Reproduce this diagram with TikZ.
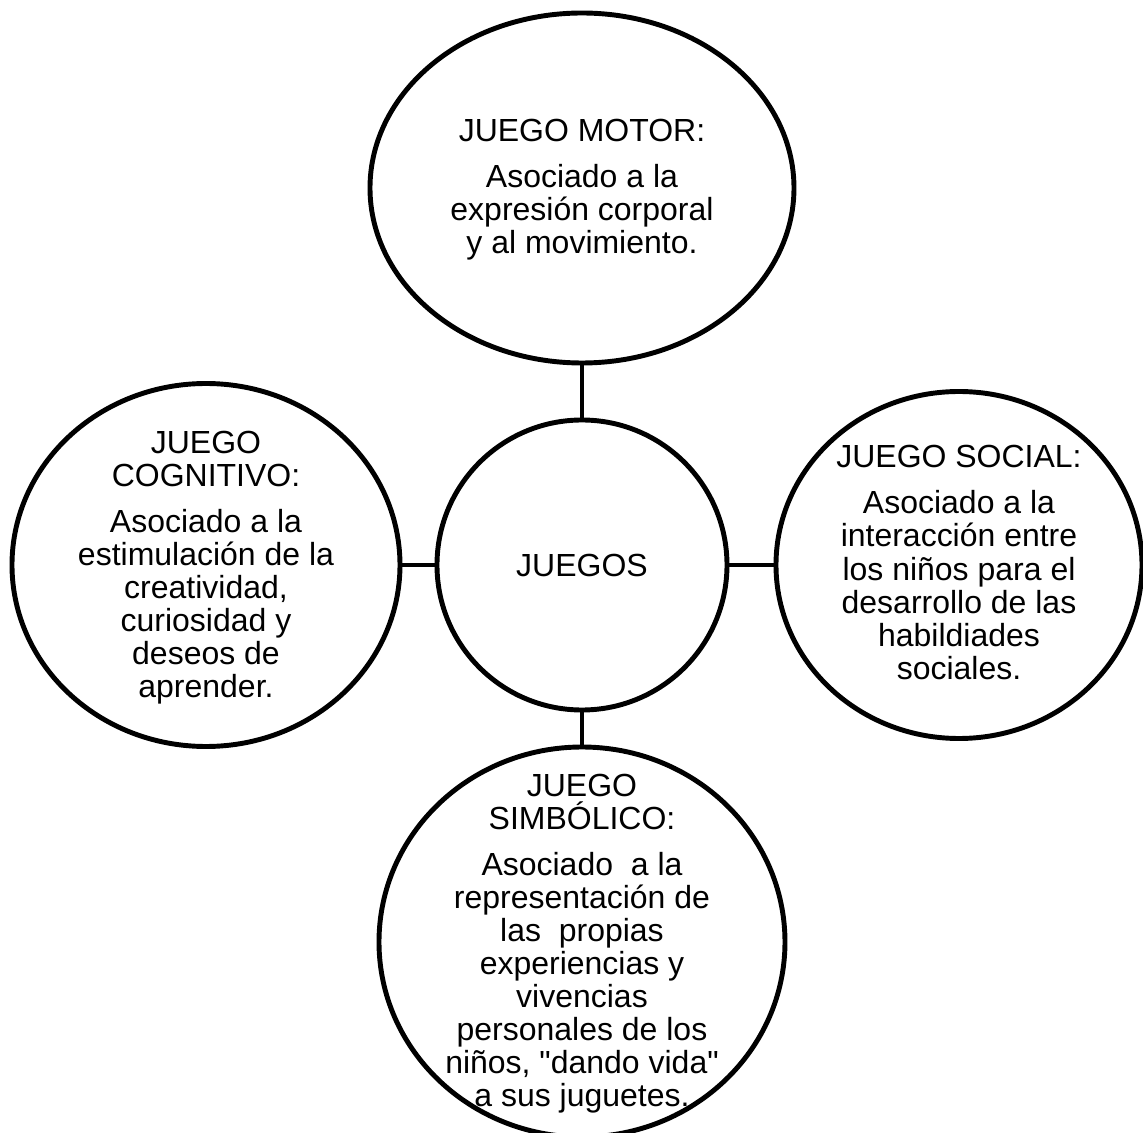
\documentclass[tikz,border=0pt]{standalone}
\usepackage{fontspec}
\setmainfont{Liberation Sans}[Ligatures=TeXOff]
\usetikzlibrary{shapes.geometric}

\begin{document}
\begin{tikzpicture}[line cap=round,line join=round,
    bubble/.style={draw,line width=2.8pt,inner sep=0pt},
    bubbletext/.style={align=center,inner sep=0pt,font=\fontsize{18.2}{18.8}\selectfont},
    link/.style={line width=2.3pt}]
  \useasboundingbox (-11.64,-11.36) rectangle (11.22,11.30);
  % centre
  \node[bubble,circle,minimum size=5.8cm,bubbletext] (juegos) at (0,0) {JUEGOS};
  % the four kinds of play
  \node[bubble,ellipse,minimum width=8.48cm,minimum height=7.0cm] (motor) at (0,7.54) {};
  \node[bubble,ellipse,minimum width=7.76cm,minimum height=7.26cm] (cognitivo) at (-7.52,0) {};
  \node[bubble,ellipse,minimum width=7.32cm,minimum height=6.94cm] (social) at (7.54,0) {};
  \node[bubble,ellipse,minimum width=8.12cm,minimum height=7.8cm] (simbolico) at (0,-7.54) {};
  \node[bubbletext] (motor-t) at ([yshift=-0.04cm]motor) {JUEGO MOTOR:\\[7.4pt]
    Asociado a la\\ expresión corporal\\ y al movimiento.};
  \node[bubbletext] (cognitivo-t) at ([yshift=-0.05cm]cognitivo) {JUEGO\\ COGNITIVO:\\[7.4pt]
    Asociado a la\\ estimulación de la\\ creatividad,\\ curiosidad y\\ deseos de\\ aprender.};
  \node[bubbletext] (social-t) at ([yshift=0.05cm]social) {JUEGO SOCIAL:\\[7.4pt]
    Asociado a la\\ interacción entre\\ los niños para el\\ desarrollo de las\\ habildiades\\ sociales.};
  \node[bubbletext] (simbolico-t) at ([yshift=-0.03cm]simbolico) {JUEGO\\ SIMBÓLICO:\\[7.4pt]
    Asociado\ \ a la\\ representación de\\ las\ \ propias\\ experiencias y\\ vivencias\\
    personales de los\\ niños, "dando vida"\\ a sus juguetes.};
  % connectors
  \draw[link] (motor) -- (juegos);
  \draw[link] (cognitivo) -- (juegos);
  \draw[link] (juegos) -- (social);
  \draw[link] (juegos) -- (simbolico);
\end{tikzpicture}
\end{document}
